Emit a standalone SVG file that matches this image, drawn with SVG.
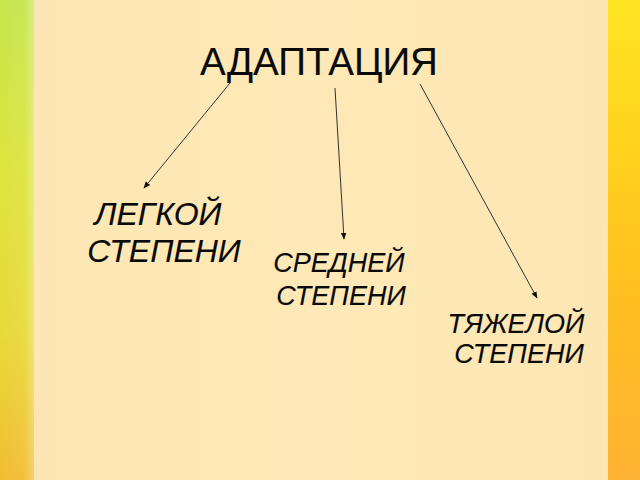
<svg xmlns="http://www.w3.org/2000/svg" width="640" height="480" viewBox="0 0 640 480">
<defs>
<linearGradient id="gl" x1="0" y1="0" x2="0" y2="1">
<stop offset="0" stop-color="#c6e64e"/>
<stop offset="0.35" stop-color="#dde43e"/>
<stop offset="0.7" stop-color="#e9d93a"/>
<stop offset="1" stop-color="#f2bd32"/>
</linearGradient>
<linearGradient id="glh" x1="0" y1="0" x2="1" y2="0">
<stop offset="0" stop-color="#ffffff" stop-opacity="0"/>
<stop offset="0.7" stop-color="#ffffff" stop-opacity="0.05"/>
<stop offset="1" stop-color="#ffffff" stop-opacity="0.3"/>
</linearGradient>
<linearGradient id="gr" x1="0" y1="0" x2="0" y2="1">
<stop offset="0" stop-color="#ffe524"/>
<stop offset="0.3" stop-color="#ffd21e"/>
<stop offset="0.6" stop-color="#ffc020"/>
<stop offset="1" stop-color="#ffb232"/>
</linearGradient>
<linearGradient id="gc" x1="0" y1="0" x2="1" y2="0">
<stop offset="0" stop-color="#fde6b3"/>
<stop offset="0.5" stop-color="#fde9b7"/>
<stop offset="1" stop-color="#fde6b2"/>
</linearGradient>
<marker id="ah" viewBox="0 0 10 10" refX="9" refY="5" markerWidth="7" markerHeight="7" orient="auto" markerUnits="userSpaceOnUse">
<path d="M0,1 L10,5 L0,9 z" fill="#111"/>
</marker>
<style>
.t{font-family:"Liberation Sans",Arial,sans-serif;fill:#0a0a0a;stroke:#0a0a0a;stroke-width:0.12}
.l{font-style:italic;text-anchor:middle}
.c{stroke:#333;stroke-width:1;fill:none;marker-end:url(#ah)}
</style>
</defs>
<g id="background">
<rect x="0" y="0" width="640" height="480" fill="url(#gc)"/>
<rect x="0" y="0" width="34" height="480" fill="url(#gl)"/>
<rect x="0" y="0" width="34" height="480" fill="url(#glh)"/>
<rect x="608" y="0" width="32" height="480" fill="url(#gr)"/>
</g>
<g id="connectors">
<line class="c" x1="230" y1="83" x2="144" y2="188"/>
<line class="c" x1="335" y1="88" x2="344" y2="239"/>
<line class="c" x1="420" y1="84" x2="537" y2="298"/>
</g>
<g id="node-root">
<text class="t" x="319" y="75" font-size="38.5" text-anchor="middle">АДАПТАЦИЯ</text>
</g>
<g id="node-light">
<text class="t l" x="158" y="225" font-size="32">ЛЕГКОЙ</text>
<text class="t l" x="164" y="262" font-size="32">СТЕПЕНИ</text>
</g>
<g id="node-medium">
<text class="t l" x="339" y="272" font-size="27">СРЕДНЕЙ</text>
<text class="t l" x="341" y="305" font-size="27">СТЕПЕНИ</text>
</g>
<g id="node-severe">
<text class="t l" x="516" y="333" font-size="27">ТЯЖЕЛОЙ</text>
<text class="t l" x="519" y="363" font-size="27">СТЕПЕНИ</text>
</g>
</svg>
